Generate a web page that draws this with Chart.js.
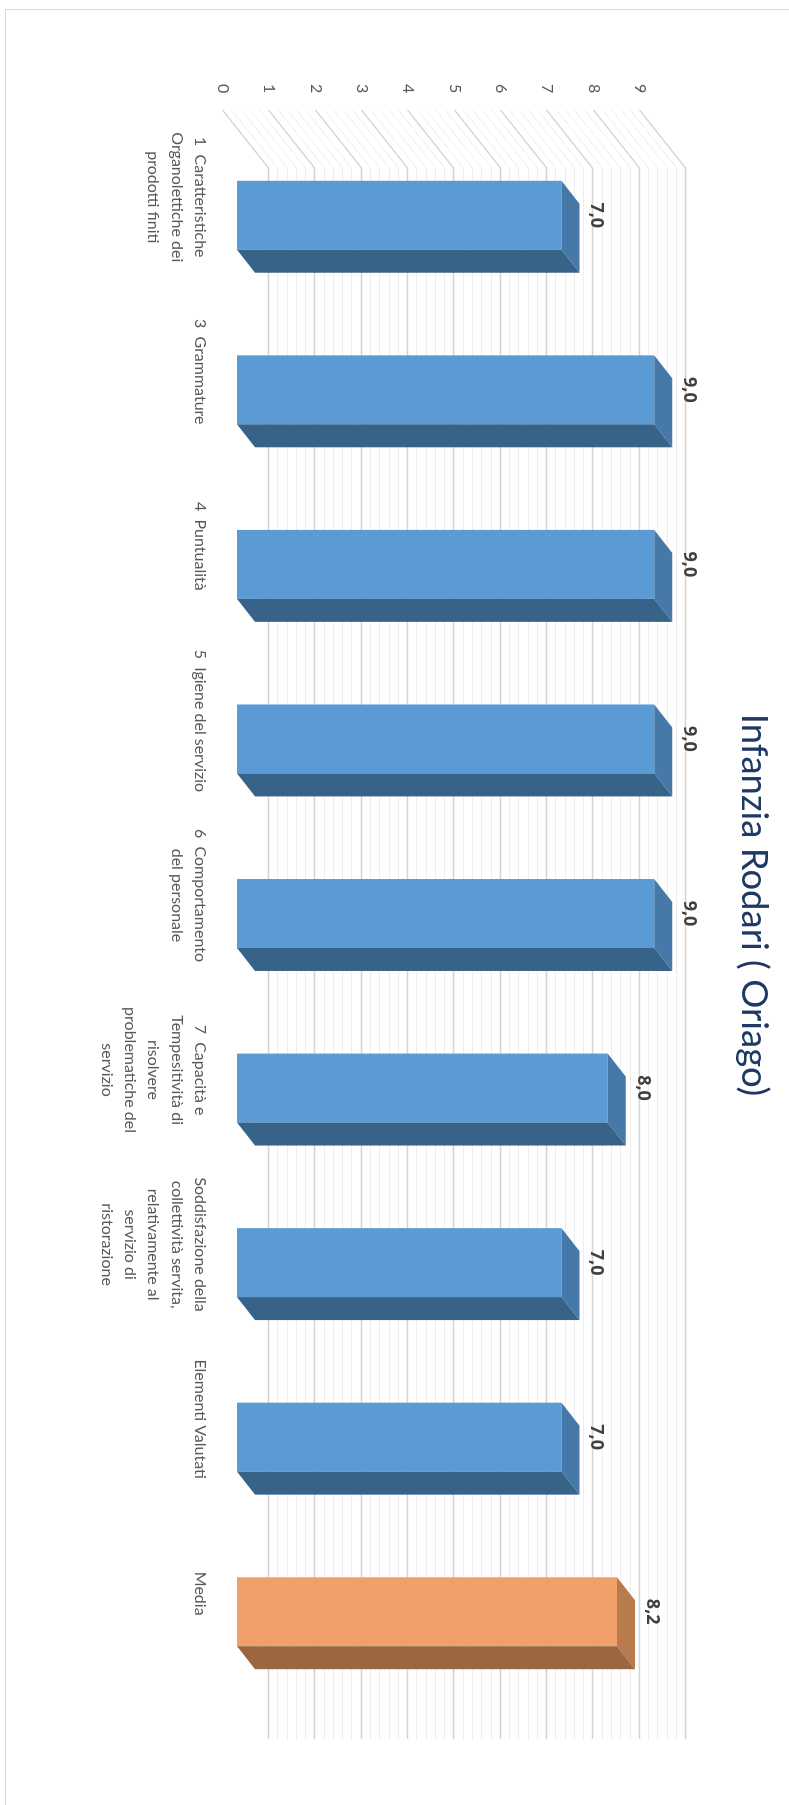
<!DOCTYPE html>
<html>
<head>
<meta charset="utf-8">
<script src="https://cdn.jsdelivr.net/npm/chart.js@4"></script>
<style>
    body{ margin:0; width:789px; height:1805px; overflow:hidden; background:#fff; }
    .frame{ position:absolute; left:5px; top:9px; width:900px; height:1900px; border:1px solid #d9d9d9; }
    /* chart is laid out landscape and turned a quarter clockwise */
    .turn{ position:absolute; left:0; top:0; width:1805px; height:789px;
           transform-origin:0 0; transform:translateX(789px) rotate(90deg); }
</style>
</head>
<body>
<div class="frame"></div>
<div class="turn"><canvas id="rodari" width="1805" height="789"></canvas></div>
<script>
const categories = [
    ['1  Caratteristiche', 'Organolettiche dei', 'prodotti finiti'],
    '3  Grammature',
    '4  Puntualità',
    '5  Igiene del servizio',
    ['6  Comportamento', 'del personale'],
    ['7  Capacità e', 'Tempesitività di', 'risolvere', 'problematiche del', 'servizio'],
    ['Soddisfazione della', 'collettività servita,', 'relativamente al', 'servizio di', 'ristorazione'],
    'Elementi Valutati',
    'Media'
];
const scores = [7, 9, 9, 9, 9, 8, 7, 7, 8.2];
const valueTicks = [0, 1, 2, 3, 4, 5, 6, 7, 8, 9];

// front / top / side shades for each bar
const blue = ['#5b9bd5', '#4678a8', '#386389'];
const orange = ['#f0a068', '#b97a4d', '#9b6741'];
const shades = scores.map((v, i) => i === scores.length - 1 ? orange : blue);

// depth offsets of the 3d box (canvas px)
const barDepth = {dx: 23, dy: -18};
const wallFront = {dx: -18, dy: 14};
const wallBack = {dx: 40, dy: -32};

//walls: side wall + back wall, major and minor lines
const walls = {
    id: 'walls',
    beforeDatasetsDraw(chart){
        const ctx = chart.ctx, y = chart.scales.y, area = chart.chartArea;
        const top = valueTicks[valueTicks.length - 1];
        ctx.save();
        for(let i = 0; i <= top * 5; i++){
            const py = Math.round(y.getPixelForValue(i / 5)) + 0.5;
            const major = i % 5 === 0;
            ctx.strokeStyle = major ? '#d4d4d4' : '#ededed';
            ctx.lineWidth = major ? 1.4 : 1;
            ctx.beginPath();
            ctx.moveTo(area.left + wallFront.dx, py + wallFront.dy);
            ctx.lineTo(area.left + wallBack.dx, py + wallBack.dy);
            ctx.lineTo(area.right + wallBack.dx, py + wallBack.dy);
            ctx.stroke();
        }
        ctx.restore();
    }
};

//bar tops, sides and value labels
const boxes = {
    id: 'boxes',
    afterDatasetsDraw(chart){
        const ctx = chart.ctx;
        const meta = chart.getDatasetMeta(0);
        ctx.save();
        meta.data.forEach((bar, i) => {
            const p = bar.getProps(['x', 'y', 'base', 'width'], true);
            const l = p.x - p.width / 2, r = p.x + p.width / 2;
            const dx = barDepth.dx, dy = barDepth.dy;
            // top
            ctx.fillStyle = shades[i][1];
            ctx.beginPath();
            ctx.moveTo(l, p.y); ctx.lineTo(r, p.y);
            ctx.lineTo(r + dx, p.y + dy); ctx.lineTo(l + dx, p.y + dy);
            ctx.closePath(); ctx.fill();
            // side
            ctx.fillStyle = shades[i][2];
            ctx.beginPath();
            ctx.moveTo(r, p.y); ctx.lineTo(r, p.base);
            ctx.lineTo(r + dx, p.base + dy); ctx.lineTo(r + dx, p.y + dy);
            ctx.closePath(); ctx.fill();
            // value
            ctx.fillStyle = '#404040';
            ctx.font = 'bold 18px "Open Sans"';
            ctx.textAlign = 'center';
            ctx.textBaseline = 'middle';
            ctx.fillText(scores[i].toFixed(1).replace('.', ','), p.x, p.y - 35);
        });
        ctx.restore();
    }
};

new Chart(document.getElementById('rodari'), {
    type: 'bar',
    data: {
        labels: categories,
        datasets: [{
            data: scores,
            backgroundColor: shades.map(s => s[0]),
            borderWidth: 0,
            categoryPercentage: 1,
            barPercentage: 0.395
        }]
    },
    options: {
        responsive: false,
        animation: false,
        layout: { padding: {left: 111, right: 106, top: 0, bottom: 0} },
        plugins: {
            legend: { display: false },
            tooltip: { enabled: false },
            title: {
                display: true,
                text: 'Infanzia Rodari ( Oriago)',
                color: '#1f3864',
                font: { family: 'Lato', size: 36.5, weight: 'normal', lineHeight: 1.2 },
                padding: { top: 13, bottom: 78 }
            }
        },
        scales: {
            x: {
                grid: { display: false, drawTicks: false },
                border: { display: false },
                ticks: {
                    autoSkip: false,
                    maxRotation: 0,
                    padding: 25,
                    labelOffset: -18,
                    color: '#595959',
                    font: { family: 'Lato', size: 16, lineHeight: 1.46 }
                },
                afterFit(s){ s.height = 237; }
            },
            y: {
                min: 0,
                max: valueTicks[valueTicks.length - 1],
                grid: { display: false, drawTicks: false },
                border: { display: false },
                ticks: {
                    stepSize: 1,
                    // mirrored so the labels are not clipped to the narrow axis box
                    mirror: true,
                    padding: -44,
                    labelOffset: 14,
                    color: '#595959',
                    font: { family: 'Lato', size: 16 }
                },
                afterFit(s){ s.width = 17; }
            }
        }
    },
    plugins: [walls, boxes]
});
</script>
</body>
</html>
